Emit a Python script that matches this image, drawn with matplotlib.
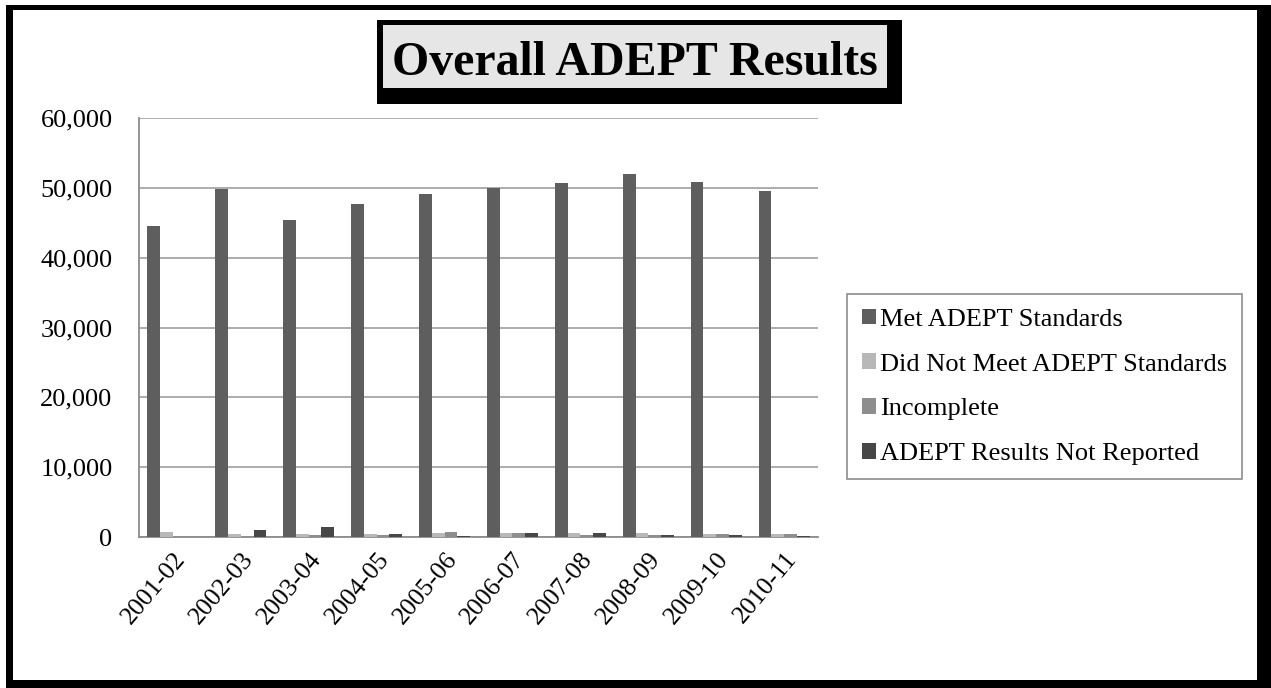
import matplotlib
matplotlib.use("Agg")
import matplotlib.pyplot as plt
from matplotlib.patches import Rectangle
from matplotlib.ticker import FuncFormatter
import numpy as np

# --- data ---
years = ["2001-02", "2002-03", "2003-04", "2004-05", "2005-06",
         "2006-07", "2007-08", "2008-09", "2009-10", "2010-11"]
met = [44500, 49800, 45400, 47700, 49100, 50000, 50700, 52000, 50900, 49500]
not_met = [770, 430, 430, 430, 530, 530, 530, 530, 430, 430]
incomplete = [0, 190, 240, 290, 720, 530, 340, 340, 480, 430]
not_reported = [0, 1050, 1390, 430, 190, 620, 530, 240, 340, 140]

labels = ["Met ADEPT Standards", "Did Not Meet ADEPT Standards",
          "Incomplete", "ADEPT Results Not Reported"]
colors = ["#5e5e5e", "#b8b8b8", "#8e8e8e", "#474747"]

plt.rcParams['font.family'] = ['Liberation Serif', 'DejaVu Serif']

W, H = 1271, 688
fig = plt.figure(figsize=(W / 100, H / 100), dpi=100)

def px_rect(x0, y0, x1, y1, **kw):
    # rectangle given in picture pixels (origin top-left)
    r = Rectangle((x0 / W, 1 - y1 / H), (x1 - x0) / W, (y1 - y0) / H,
                  transform=fig.transFigure, **kw)
    fig.add_artist(r)
    return r

# outer frame with shadow
px_rect(6, 5, W + 5, H + 5, facecolor="black", edgecolor="none", zorder=0)
px_rect(13, 10, 1257, 680, facecolor="white", edgecolor="none", zorder=0)

# title box
px_rect(377, 20, 902, 104, facecolor="black", edgecolor="none", zorder=1)
px_rect(383, 25, 887, 88, facecolor="#e6e6e6", edgecolor="none", zorder=2)
fig.text(635 / W, 1 - 75 / H, "Overall ADEPT Results", ha="center", va="baseline",
         fontsize=34.5, fontweight="bold", zorder=3)

ax = fig.add_axes([139 / W, 1 - 537 / H, (818 - 139) / W, (537 - 118) / H])
ax.set_facecolor("none")

x = np.arange(len(years))
bw = 0.1875
series = [met, not_met, incomplete, not_reported]
for i, (vals, lab, col) in enumerate(zip(series, labels, colors)):
    ax.bar(x + (i - 1.5) * bw, vals, width=bw, color=col, label=lab, zorder=3)

ax.set_xlim(-0.5, len(years) - 0.5)
ax.set_ylim(0, 60000)
ax.set_yticks(range(0, 60001, 10000))
ax.yaxis.set_major_formatter(FuncFormatter(lambda v, p: f"{int(v):,}"))
ax.grid(axis="y", color="#a6a6a6", linewidth=1.3, zorder=0)
ax.set_axisbelow(True)

for s in ["top", "right"]:
    ax.spines[s].set_visible(False)
for s in ["left", "bottom"]:
    ax.spines[s].set_color("#8c8c8c")
    ax.spines[s].set_linewidth(1.3)

ax.set_xticks(x)
ax.set_xticklabels(years, rotation=50, ha="right", rotation_mode="anchor")
ax.tick_params(axis="x", length=0, pad=8, labelsize=18.5)
ax.tick_params(axis="y", length=0, pad=19, labelsize=19)

leg = fig.legend(loc="upper left", bbox_to_anchor=(847 / W, 1 - 294 / H),
                 fontsize=19, frameon=True, fancybox=False, edgecolor="#707070",
                 handlelength=0.55, handleheight=0.55, handletextpad=0.15,
                 labelspacing=0.85, borderpad=0.55, borderaxespad=0)
leg.get_frame().set_linewidth(1.2)

fig.savefig("out.png", dpi=100)
